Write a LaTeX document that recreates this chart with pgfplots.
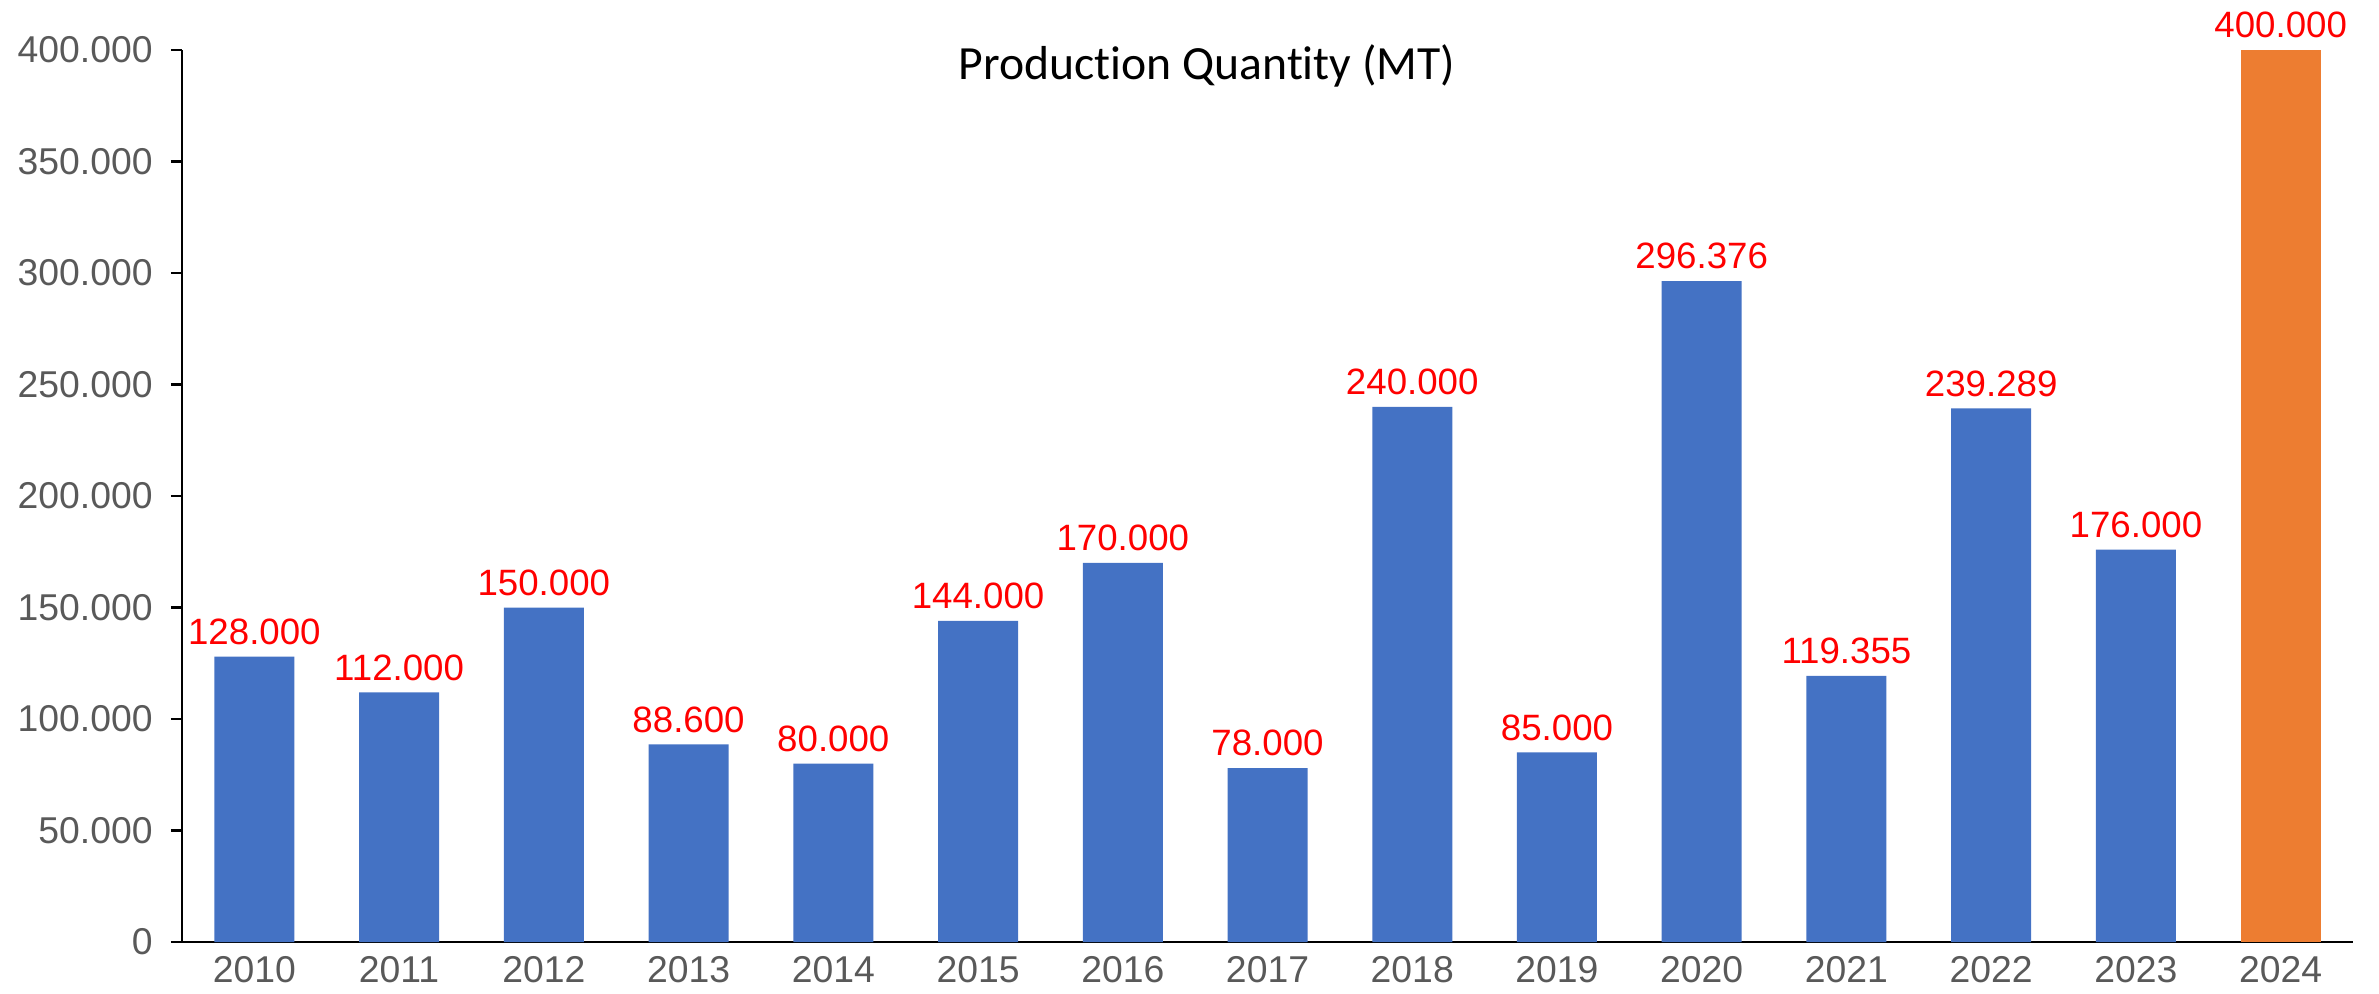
\documentclass[border=0pt]{standalone}
\usepackage{fontspec}
\setmainfont{Liberation Sans}
\newfontfamily\titlefont[Ligatures=NoCommon]{Carlito}
\usepackage{pgfplots}
\pgfplotsset{compat=1.18}
\definecolor{barblue}{HTML}{4472C4}
\definecolor{barorange}{HTML}{ED7D31}
\definecolor{lblred}{HTML}{FF0000}
\definecolor{tickgray}{HTML}{595959}

\begin{document}
\begin{tikzpicture}
\useasboundingbox (0,0) rectangle (713.7pt,297.9pt);
\begin{axis}[
  at={(54.6pt,15.3pt)}, anchor=south west,
  scale only axis, width=651.3pt, height=267.6pt,
  ybar, bar width=24pt,
  xmin=-0.5, xmax=14.5, ymin=0, ymax=400000,
  xtick={0,...,14},
  xticklabels={2010,2011,2012,2013,2014,2015,2016,2017,2018,2019,2020,2021,2022,2023,2024},
  ytick={0,50000,...,400000},
  scaled y ticks=false,
  axis x line*=bottom, axis y line*=left,
  axis line style={black, line width=0.8pt},
  x axis line style={-}, y axis line style={-},
  xtick style={draw=none},
  ytick style={black, line width=0.8pt},
  tick align=outside, major tick length=3.3pt,
  /pgf/number format/assume math mode=true,
  /pgf/number format/.cd, fixed, precision=0, 1000 sep={.},
  /pgfplots/.cd,
  tick label style={font=\fontsize{11.2}{13}\selectfont, text=tickgray},
  yticklabel style={xshift=-2pt},
  xticklabel style={yshift=2.4pt},
  nodes near coords={\pgfmathprintnumber[fixed,precision=0,1000 sep={.},assume math mode=true]{\pgfplotspointmeta}},
  nodes near coords style={font=\fontsize{11}{13}\selectfont, text=lblred},
]
\addplot[fill=barblue, draw=none, bar shift=0pt] coordinates {
  (0,128000) (1,112000) (2,150000) (3,88600) (4,80000)
  (5,144000) (6,170000) (7,78000) (8,240000) (9,85000)
  (10,296376) (11,119355) (12,239289) (13,176000)
};
\addplot[fill=barorange, draw=none, bar shift=0pt] coordinates {(14,400000)};
\end{axis}
\node[font=\titlefont\fontsize{14.3}{17}\selectfont] at (362.1pt,278pt) {Production Quantity (MT)};
\end{tikzpicture}
\end{document}
